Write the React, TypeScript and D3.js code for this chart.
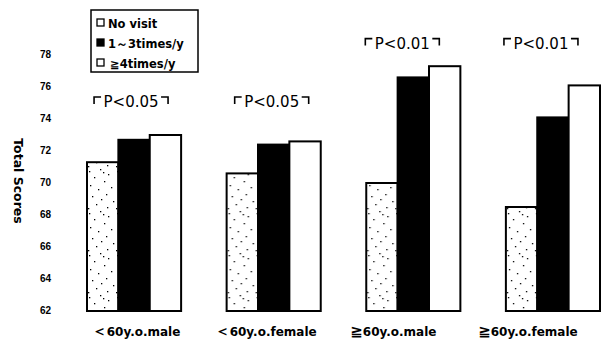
import * as React from 'react'
import * as d3 from 'd3'

const categories = ['＜60y.o.male', '＜60y.o.female', '≧60y.o.male', '≧60y.o.female']
const seriesNames = ['No visit', '1～3times/y', '≧4times/y']
const noVisit = [71.3, 70.6, 70.0, 68.5]
const oneToThree = [72.7, 72.4, 76.6, 74.1]
const fourPlus = [73.0, 72.6, 77.3, 76.1]
const pLabels = ['P<0.05', 'P<0.05', 'P<0.01', 'P<0.01']
const pLevels = [74.75, 74.75, 78.4, 78.4]
const yTicks = [62, 64, 66, 68, 70, 72, 74, 76, 78]

const width = 612
const height = 344
const font = '"DejaVu Sans", sans-serif'

// fixed, irregular dot positions for the stippled texture
const dots = [
  [2, 3], [13, 1], [21, 6], [7, 9], [17, 13], [3, 17], [24, 19], [11, 21],
  [19, 26], [5, 28], [14, 31], [26, 33], [9, 36], [1, 40], [20, 39], [16, 4],
]

export default function App() {
  const series = [noVisit, oneToThree, fourPlus]
  const fills = ['url(#stipple)', '#000', '#fff']

  const x0 = d3.scaleBand<string>()
    .domain(categories)
    .range([87, 600])
    .paddingInner(0.326)
    .paddingOuter(0)

  const x1 = d3.scaleBand<number>()
    .domain([0, 1, 2])
    .range([0, x0.bandwidth()])

  const y = d3.scaleLinear().domain([62, 78]).range([311, 55])

  // small per-group shifts of the text seen in the scan
  const catShift = [2, -8, -20, -25]
  const pShift = [-3, -2, -11, -12]

  return (
    <svg
      width={width}
      height={height}
      style={{ position: 'absolute', left: 0, top: 0, background: '#fff' }}
      fontFamily={font}
    >
      <defs>
        <pattern id="stipple" width={28} height={42} patternUnits="userSpaceOnUse">
          <rect width={28} height={42} fill="#fff" />
          {dots.map(([dx, dy], i) => (
            <rect key={i} x={dx} y={dy} width={1.3} height={1.3} fill="#000" />
          ))}
        </pattern>
      </defs>

      {/* y tick labels */}
      {yTicks.map(t => (
        <text
          key={t}
          x={51}
          y={y(t) + 3}
          textAnchor="end"
          fontFamily='"Liberation Sans", Arial, sans-serif'
          fontWeight="bold"
          fontSize={10}
          fill="#000"
        >
          {t}
        </text>
      ))}

      <text
        transform={`translate(14, 181) rotate(90)`}
        textAnchor="middle"
        fontWeight="bold"
        fontSize={12.5}
        fill="#000"
      >
        Total Scores
      </text>

      {/* bars */}
      {categories.map((c, gi) => (
        <g key={c} transform={`translate(${x0(c)}, 0)`}>
          {series.map((s, si) => (
            <rect
              key={si}
              x={x1(si)}
              y={y(s[gi])}
              width={x1.bandwidth()}
              height={y(62) - y(s[gi])}
              fill={fills[si]}
              stroke="#000"
              strokeWidth={2}
            />
          ))}
        </g>
      ))}

      {/* significance brackets */}
      {categories.map((c, gi) => {
        const cx = (x0(c) as number) + x0.bandwidth() / 2 + pShift[gi]
        const base = y(pLevels[gi])
        const top = base - 10
        return (
          <g key={`p-${c}`}>
            <path
              d={`M${cx - 37},${top + 7}V${top}H${cx - 30}M${cx + 30},${top}H${cx + 37}V${top + 7}`}
              fill="none"
              stroke="#000"
              strokeWidth={1.6}
            />
            <text x={cx} y={base} textAnchor="middle" fontSize={15} fill="#000">
              {pLabels[gi]}
            </text>
          </g>
        )
      })}

      {/* category labels */}
      {categories.map((c, gi) => (
        <text
          key={`c-${c}`}
          x={(x0(c) as number) + x0.bandwidth() / 2 + catShift[gi]}
          y={336}
          textAnchor="middle"
          fontWeight="bold"
          fontSize={12}
          fill="#000"
        >
          <tspan fontSize={15}>{c.slice(0, 1)}</tspan>
          {c.slice(1)}
        </text>
      ))}

      {/* legend */}
      <g>
        <rect x={91} y={10} width={107} height={62} fill="#fff" stroke="#000" strokeWidth={1.5} />
        {seriesNames.map((n, i) => (
          <g key={n} transform={`translate(97, ${23 + i * 20})`}>
            <rect
              x={0}
              y={-4}
              width={7}
              height={7}
              fill={i === 1 ? '#000' : '#fff'}
              stroke="#000"
              strokeWidth={1.3}
            />
            <text x={i === 2 ? 13 : 11} y={4.5} fontWeight="bold" fontSize={11.5} fill="#000">
              {n}
            </text>
          </g>
        ))}
      </g>
    </svg>
  )
}
